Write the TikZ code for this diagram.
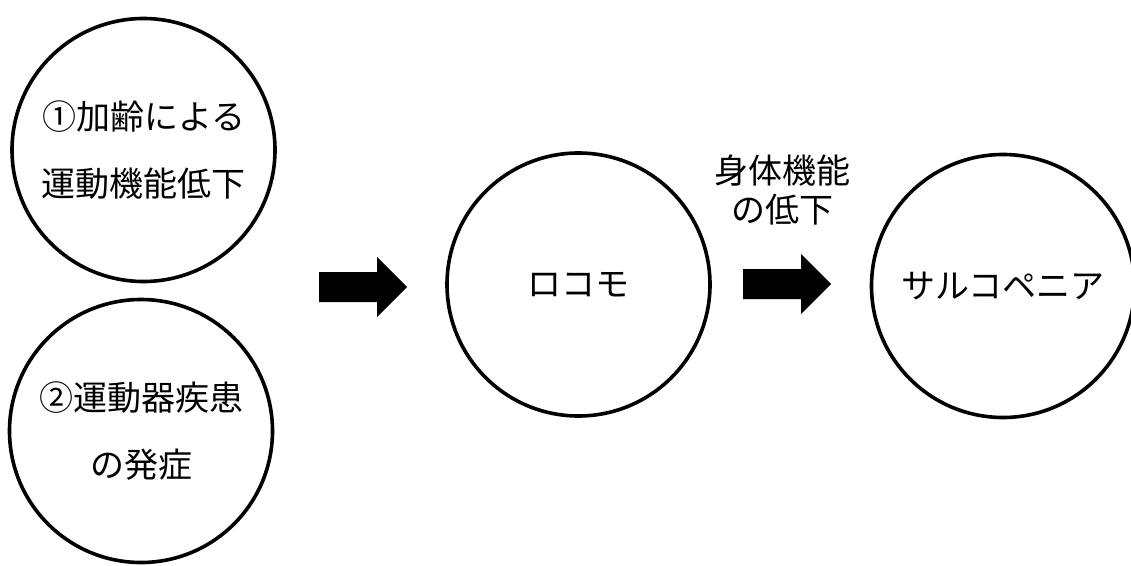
\documentclass[tikz,border=0pt]{standalone}
\usepackage{fontspec}
\newfontfamily\jp{Noto Sans CJK JP}
\begin{document}
\begin{tikzpicture}[x=1pt,y=-1pt,
  ring/.style={circle,draw=black,line width=3.6pt,minimum size=263pt,inner sep=0pt,align=center,
    font=\jp\fontsize{34}{67}\selectfont},
  lbl/.style={align=center,font=\jp\fontsize{34}{39}\selectfont,inner sep=0pt},
  blockarrow/.pic={\fill[black] (0,-15) -- (58,-15) -- (58,-30) -- (88,0) -- (58,30) -- (58,15) -- (0,15) -- cycle;}]
\useasboundingbox[fill=white] (0,0) rectangle (1131,565);
\node[ring] (c1) at (143.5,150) {①加齢による\\運動機能低下};
\node[ring] (c2) at (141,431) {②運動器疾患\\の発症};
\node[ring] (c3) at (578.5,284.5) {ロコモ};
\node[ring] (c4) at (1003,286) {サルコペニア};
\pic (a1) at (319,287) {blockarrow};
\pic (a2) at (743,284) {blockarrow};
\node[lbl] (t1) at (782,190) {身体機能\\の低下};
\end{tikzpicture}
\end{document}
